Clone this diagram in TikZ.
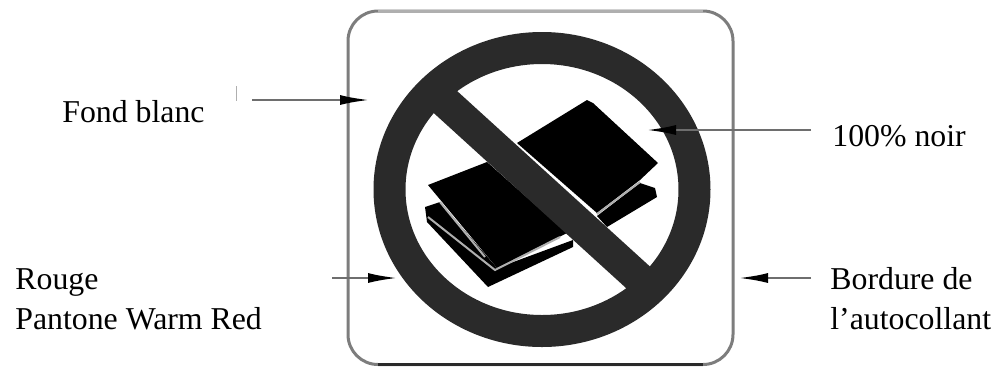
\documentclass[tikz,border=0pt]{standalone}
\usepackage{fontspec}
\setmainfont{Liberation Serif}
\usepackage{xcolor}
\usetikzlibrary{arrows.meta,shapes.geometric}
\definecolor{ringgray}{RGB}{42,42,42}
\definecolor{leadgray}{RGB}{110,110,110}
\definecolor{edgegray}{RGB}{125,125,125}
\definecolor{foldgray}{RGB}{175,175,175}
\tikzset{
  lbl/.style    ={anchor=west, align=left, inner sep=0pt,
                  font=\fontsize{15.9}{20}\selectfont},
  ringnode/.style={draw=ringgray, ellipse, line width=16pt, fill=white,
                  minimum width=152.5pt, minimum height=141.5pt, inner sep=0pt},
  sheet/.style  ={fill=black, draw=none},
  fold/.style   ={draw=foldgray, line width=1pt},
  arr/.style    ={-{Latex[length=15pt,width=5pt,black]}, draw=leadgray, line width=1.3pt},
}
\begin{document}
\begin{tikzpicture}[x=0.5pt,y=-0.5pt]
  \useasboundingbox (0,0) rectangle (998,366);
  \node[lbl] (fond)  at (62,112)  {Fond blanc};
  \node[lbl] (noir)  at (832,136) {100\% noir};
  \node[lbl] (rouge) at (15,299)  {Rouge\\Pantone Warm Red};
  \node[lbl] (bord)  at (830,299) {Bordure de\\l’autocollant};

  \draw[edgegray, line width=1.5pt, rounded corners=15pt] (348,364.5) rectangle (733,11);
  \draw[foldgray, line width=1.5pt] (378,11)--(703,11);
  \draw[ringgray, line width=1.5pt] (378,364.5)--(703,364.5);
  \node[ringnode] (ring) at (542,189.5) {};

  \fill[sheet] (640,183)--(655,188)--(657,197)--(607,227)--(597,216)--cycle;
  \fill[sheet] (425,207)--(440,202)--(497,268)--(573,240)--(573,247)--(488,287)--(427,222)--cycle;
  \fill[sheet] (428,185)--(487,162)--(567,233)--(497,268)--cycle;
  \fill[sheet] (517,143)--(587,100)--(593,103)--(658,163)--(640,180)--(597,213)--cycle;
  \draw[fold] (428,217)--(495,270)--(560,237);
  \draw[fold] (440,202)--(485,257);
  \draw[fold] (597,214)--(640,182);

  \path[draw=ringgray, line width=16pt] (430,88)--(652,290);

  \coordinate (fondtail) at (252,100);
  \coordinate (fondtip)  at (370,100);
  \coordinate (noirtail) at (811,130);
  \coordinate (noirtip)  at (646,130);
  \coordinate (rougetail) at (332,278);
  \coordinate (rougetip)  at (398,278);
  \coordinate (bordtail) at (811,278);
  \coordinate (bordtip)  at (738,278);
  \coordinate (ticktop)  at (236,86);
  \coordinate (tickbot)  at (236,101);
  \draw[arr] (fondtail)--(fondtip);
  \draw[arr] (noirtail)--(noirtip);
  \draw[arr] (rougetail)--(rougetip);
  \draw[arr] (bordtail)--(bordtip);
  \draw[foldgray, line width=0.5pt] (ticktop)--(tickbot);
\end{tikzpicture}
\end{document}
